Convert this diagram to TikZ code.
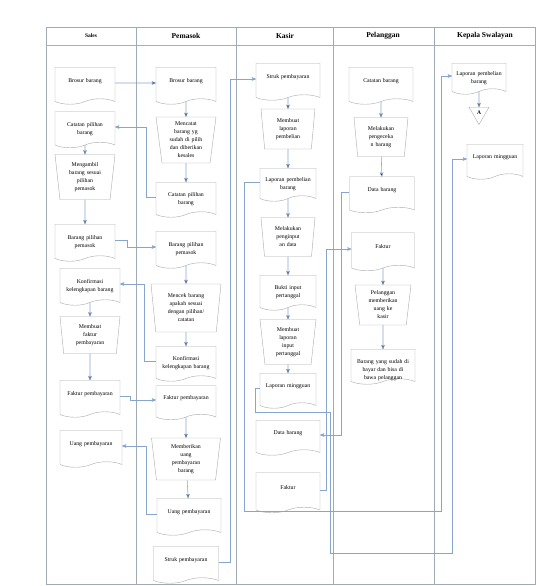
\documentclass[tikz,border=0pt]{standalone}
\usepackage{fontspec}
\setmainfont{Liberation Serif}
\usepackage{xcolor}
\usepackage{tikz}
\usetikzlibrary{arrows,shapes.geometric,shapes.symbols}

\definecolor{boxgray}{RGB}{170,170,170}
\definecolor{flowblue}{RGB}{135,165,205}
\definecolor{lanegray}{RGB}{160,170,180}
\definecolor{headblue}{RGB}{150,180,210}

\tikzset{
	doc/.style={tape, tape bend top=none, tape bend height=5.5pt, draw=boxgray, fill=white,
		minimum width=60pt, minimum height=37pt, text width=52pt, align=center,
		inner sep=1pt, text depth=5pt, font=\fontsize{5.8}{8}\selectfont},
	manual/.style={trapezium, shape border rotate=180, trapezium angle=81,
		trapezium stretches body, draw=boxgray, fill=white,
		minimum width=60pt, minimum height=42pt, text width=44pt, align=center,
		inner sep=1pt, font=\fontsize{5.8}{8}\selectfont},
	hdr/.style={font=\bfseries\fontsize{7.5}{8}\selectfont},
	flow/.style={->, >=stealth', draw=flowblue, line width=0.55pt},
}

\begin{document}
\begin{tikzpicture}[x=1pt,y=-1pt]
		\useasboundingbox (0,0) rectangle (549,586);
		% lanes
		\draw[lanegray, line width=0.6pt] (46,27) rectangle (535,584);
		\draw[headblue, line width=0.6pt] (46,45) -- (535,45);
		\foreach \x in {136,236,333,434}
			\draw[lanegray, line width=0.6pt] (\x,27) -- (\x,584);
		\node[font=\bfseries\fontsize{5.5}{6}\selectfont] (hS) at (91,36) {Sales};
		\node[hdr] (hP) at (186,36) {Pemasok};
		\node[hdr] (hK) at (285,36) {Kasir};
		\node[hdr] (hL) at (383,36) {Pelanggan};
		\node[hdr] (hW) at (485,36) {Kepala Swalayan};
		%
		% Sales
		\node[doc] (S1) at (85,83) {Brosur barang};
		\node[doc, minimum height=36pt] (S2) at (85,127) {Catatan pilihan\\barang};
		\node[manual, minimum height=45pt] (S3) at (85,177) {Mengambil\\barang sesuai\\pilihan\\pemasok};
		\node[doc] (S4) at (85,240) {Barang pilihan\\pemasok};
		\node[doc] (S5) at (90,284) {Konfirmasi\\kelengkapan barang};
		\node[manual, minimum height=37pt] (S6) at (90,335) {Membuat\\faktur\\pembayaran};
		\node[doc] (S7) at (90,396) {Faktur pembayaran};
		\node[doc, minimum width=62pt] (S8) at (91,446) {Uang pembayaran};
		%
		% Pemasok
		\node[doc] (P1) at (186,83) {Brosur barang};
		\node[manual, minimum height=46pt] (P2) at (186,140) {Mencatat\\barang yg\\sudah di pilih\\dan diberikan\\kesales};
		\node[doc, minimum height=35pt] (P3) at (186,197) {Catatan pilihan\\barang};
		\node[doc] (P4) at (186,247) {Barang pilihan\\pemasok};
		\node[manual, minimum width=70pt, minimum height=48pt, text width=52pt] (P5) at (186,308) {Mencek barang\\apakah sesuai\\dengan pilihan/\\catatan};
		\node[doc, minimum height=35pt] (P6) at (186,361) {Konfirmasi\\kelengkapan barang};
		\node[doc, minimum height=34pt] (P7) at (186,400) {Faktur pembayaran};
		\node[manual, minimum width=69pt, text width=52pt] (P8) at (186,459) {Memberikan\\uang\\pembayaran\\barang};
		\node[doc, minimum width=64pt, text width=56pt] (P9) at (189,514) {Uang pembayaran};
		\node[doc, minimum width=65pt, text width=56pt] (P10) at (186,562) {Struk pembayaran};
		%
		% Kasir
		\node[doc, minimum width=64pt, text width=56pt] (K1) at (288,79) {Struk pembayaran};
		\node[manual, minimum width=54pt, minimum height=40pt, text width=40pt] (K2) at (288,129) {Membuat\\laporan\\pembelian};
		\node[doc, minimum width=56pt, minimum height=33pt] (K3) at (288,182) {Laporan pembelian\\barang};
		\node[manual, minimum width=54pt, minimum height=39pt, text width=40pt] (K4) at (288,237) {Melakukan\\penginput\\an data};
		\node[doc, minimum width=56pt, minimum height=35pt] (K5) at (288,290) {Bukti input\\pertanggal};
		\node[manual, minimum width=56pt, minimum height=45pt, text width=40pt] (K6) at (288,342) {Membuat\\laporan\\input\\pertanggal};
		\node[doc, minimum width=56pt, minimum height=35pt] (K7) at (288,388) {Laporan mingguan};
		\node[doc, minimum width=64pt, minimum height=35pt] (K8) at (288,435) {Data barang};
		\node[doc, minimum width=64pt, minimum height=40pt] (K9) at (288,490) {Faktur};
		%
		% Pelanggan
		\node[doc, minimum width=64pt] (L1) at (381,83) {Catatan barang};
		\node[manual, minimum width=54pt, minimum height=39pt, text width=40pt] (L2) at (381,137) {Melakukan\\pengeceka\\n barang};
		\node[doc, minimum width=65pt, minimum height=36pt] (L3) at (382,192) {Data barang};
		\node[doc, minimum width=63pt, minimum height=38pt] (L4) at (383,249) {Faktur};
		\node[manual, minimum width=56pt, minimum height=40pt, text width=42pt] (L5) at (383,305) {Pelanggan\\memberikan\\uang ke\\kasir};
		\node[doc, minimum width=64pt, minimum height=35pt, text width=60pt] (L6) at (383,364) {Barang yang sudah di\\bayar dan bisa di\\bawa pelanggan};
		%
		% Kepala Swalayan
		\node[doc, minimum width=54pt, minimum height=31pt] (W1) at (479,76) {Laporan pembelian\\barang};
		\node[draw=boxgray, fill=white, regular polygon, regular polygon sides=3, shape border rotate=180,
			minimum size=23pt, inner sep=0pt, font=\bfseries\fontsize{5.5}{6}\selectfont] (W2) at (479,113) {A};
		\node[doc, minimum width=56pt, minimum height=35pt] (W3) at (495,159) {Laporan mingguan};
		%
		\coordinate (c1) at (244,511);
		\coordinate (c2) at (441,511);
		\coordinate (c3) at (255,412);
		\coordinate (c4) at (330,412);
		\coordinate (c5) at (330,553);
		\coordinate (c6) at (452,553);
		%
		\path[flow]
		(S1) edge (P1)
		(S2) edge (S3)
		(S3) edge (S4)
		(S5) edge (S6)
		(S6) edge (S7)
		(P1) edge (P2)
		(P2) edge (P3)
		(P4) edge (P5)
		(P5) edge (P6)
		(P7) edge (P8)
		(P8) edge (P9)
		(K1) edge (K2)
		(K2) edge (K3)
		(K3) edge (K4)
		(K4) edge (K5)
		(K5) edge (K6)
		(K6) edge (K7)
		(L1) edge (L2)
		(L2) edge (L3)
		(L4) edge (L5)
		(L5) edge (L6)
		(W1) edge (W2);
		%
		\draw[flow] (P3.west) -- ++(-10,0) |- (S2.east);
		\draw[flow] (S4.east) -- ++(12,0) |- (P4.west);
		\draw[flow] (P6.west) -- ++(-12,0) |- (S5.east);
		\draw[flow] (S7.east) -- ++(10,0) |- (P7.west);
		\draw[flow] (P9.west) -- ++(-11,0) |- (S8.east);
		\draw[flow] (P10.east) -- ++(12,0) |- (K1.west);
		\draw[flow] (K3.west) -| (c1) -- (c2) |- (W1.west);
		\draw[flow] (K7.west) -| (c3) -- (c4) -- (c5) -- (c6) |- (W3.west);
		\draw[flow] (K9.east) -- ++(6,0) |- (L4.west);
		\draw[flow] (L3.west) -- ++(-8,0) |- (K8.east);
\end{tikzpicture}
\end{document}
